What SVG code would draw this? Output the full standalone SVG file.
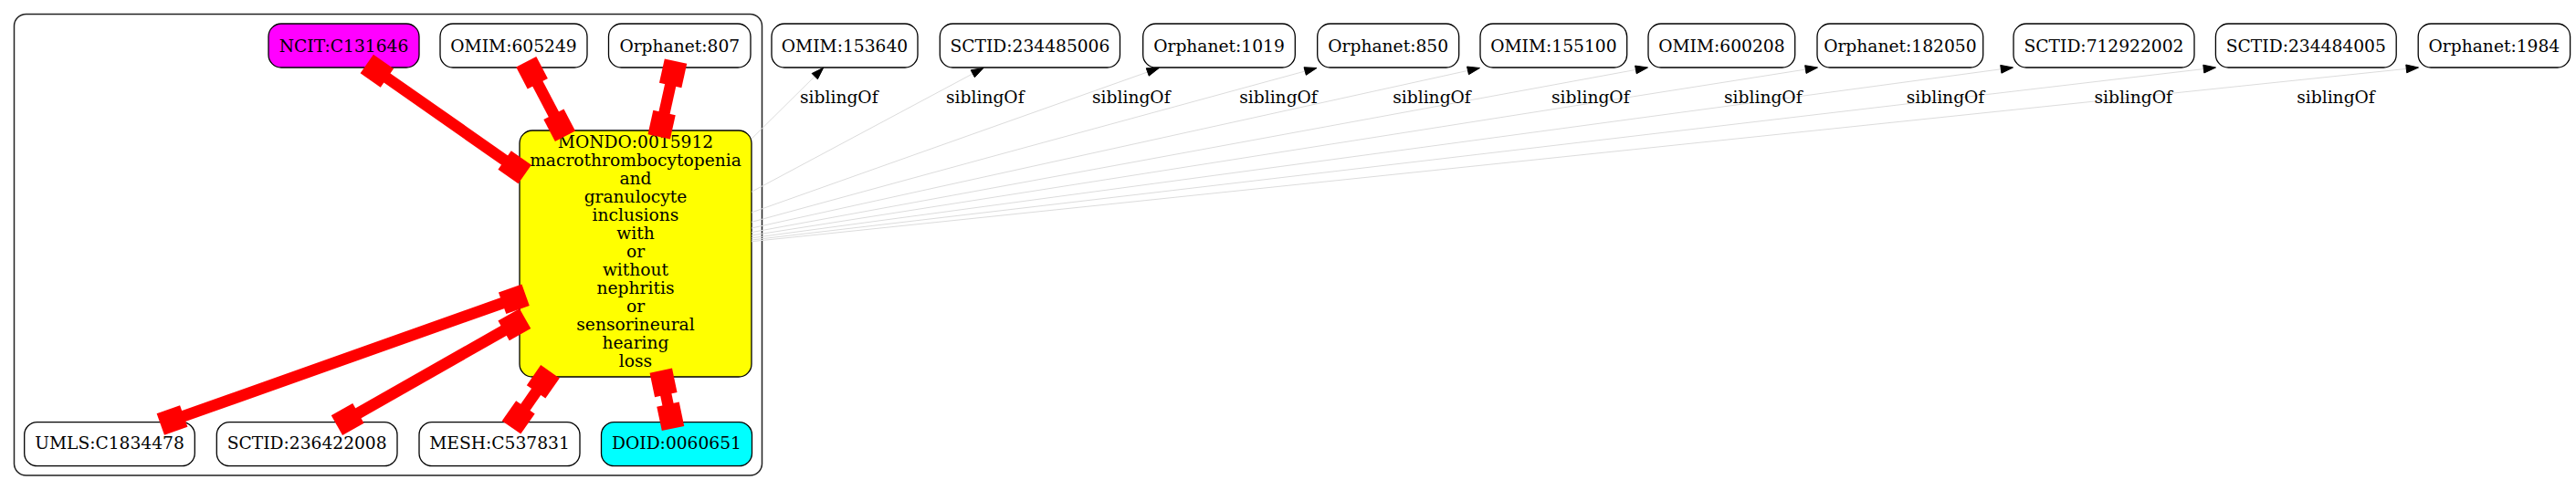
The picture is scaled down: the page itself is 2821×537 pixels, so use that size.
<svg xmlns="http://www.w3.org/2000/svg" width="2821" height="537" viewBox="0 0 2821 537">
<style>
text{font-family:"DejaVu Serif","Liberation Serif",serif;font-size:18.67px;text-anchor:middle;fill:#000}
.n rect{stroke:#000;stroke-width:1.3;fill:#fff}
.red{stroke:#f00;stroke-width:12.5;fill:none;marker-start:url(#box);marker-end:url(#box)}
.sib line{stroke:#dcdcdc;stroke-width:1}
.sib polygon{fill:#000;stroke:#000;stroke-width:1}
</style>
<defs>
<marker id="box" markerUnits="userSpaceOnUse" viewBox="-20 -12.5 27 25" markerWidth="27" markerHeight="25" refX="0" refY="0" orient="auto-start-reverse" overflow="visible">
<rect x="-20" y="-12.5" width="27" height="25" fill="#f00"/>
</marker>
</defs>
<rect width="2821" height="537" fill="#fff"/>
<g id="cluster"><rect x="15.5" y="15.5" width="819" height="505.5" rx="13" fill="none" stroke="#222" stroke-width="1.5"/></g>

<g id="NCIT_C131646" class="n"><rect x="294" y="26" width="165" height="48" rx="14" style="fill:#ff00ff"/><text x="376.5" y="56.7">NCIT:C131646</text></g>
<g id="OMIM_605249" class="n"><rect x="482" y="26" width="161" height="48" rx="14"/><text x="562.5" y="56.7">OMIM:605249</text></g>
<g id="Orphanet_807" class="n"><rect x="666.5" y="26" width="155.5" height="48" rx="14"/><text x="744.25" y="56.7">Orphanet:807</text></g>

<g id="MONDO_0015912" class="n"><rect x="569" y="143" width="254" height="270" rx="14" style="fill:#ffff00"/>
<text x="696" y="162.3">MONDO:0015912</text>
<text x="696" y="182.3">macrothrombocytopenia</text>
<text x="696" y="202.3">and</text>
<text x="696" y="222.3">granulocyte</text>
<text x="696" y="242.3">inclusions</text>
<text x="696" y="262.3">with</text>
<text x="696" y="282.3">or</text>
<text x="696" y="302.3">without</text>
<text x="696" y="322.3">nephritis</text>
<text x="696" y="342.3">or</text>
<text x="696" y="362.3">sensorineural</text>
<text x="696" y="382.3">hearing</text>
<text x="696" y="402.3">loss</text>
</g>

<g id="UMLS_C1834478" class="n"><rect x="26.7" y="462.7" width="186.6" height="48" rx="14"/><text x="120" y="492">UMLS:C1834478</text></g>
<g id="SCTID_236422008" class="n"><rect x="237.3" y="462.7" width="197.7" height="48" rx="14"/><text x="336.15" y="492">SCTID:236422008</text></g>
<g id="MESH_C537831" class="n"><rect x="459" y="462.7" width="176" height="48" rx="14"/><text x="547" y="492">MESH:C537831</text></g>
<g id="DOID_0060651" class="n"><rect x="658.5" y="462.7" width="165" height="48" rx="14" style="fill:#00ffff"/><text x="741" y="492">DOID:0060651</text></g>

<g id="OMIM_153640" class="n"><rect x="845" y="26" width="160" height="48" rx="14"/><text x="925" y="56.7">OMIM:153640</text></g>
<g id="SCTID_234485006" class="n"><rect x="1029.3" y="26" width="197.2" height="48" rx="14"/><text x="1127.9" y="56.7">SCTID:234485006</text></g>
<g id="Orphanet_1019" class="n"><rect x="1251.7" y="26" width="166.6" height="48" rx="14"/><text x="1335" y="56.7">Orphanet:1019</text></g>
<g id="Orphanet_850" class="n"><rect x="1442.7" y="26" width="155" height="48" rx="14"/><text x="1520.2" y="56.7">Orphanet:850</text></g>
<g id="OMIM_155100" class="n"><rect x="1621" y="26" width="160.7" height="48" rx="14"/><text x="1701.35" y="56.7">OMIM:155100</text></g>
<g id="OMIM_600208" class="n"><rect x="1805" y="26" width="160.7" height="48" rx="14"/><text x="1885.35" y="56.7">OMIM:600208</text></g>
<g id="Orphanet_182050" class="n"><rect x="1990" y="26" width="181.7" height="48" rx="14"/><text x="2080.85" y="56.7">Orphanet:182050</text></g>
<g id="SCTID_712922002" class="n"><rect x="2205" y="26" width="198" height="48" rx="14"/><text x="2304" y="56.7">SCTID:712922002</text></g>
<g id="SCTID_234484005" class="n"><rect x="2426.4" y="26" width="197.8" height="48" rx="14"/><text x="2525.3" y="56.7">SCTID:234484005</text></g>
<g id="Orphanet_1984" class="n"><rect x="2648.2" y="26" width="166.4" height="48" rx="14"/><text x="2731.4" y="56.7">Orphanet:1984</text></g>

<g id="connectors">
<g class="sib">
<line x1="823" y1="152.2" x2="892.25" y2="83.66"/><polygon points="901.7,74.3 895.37,86.81 889.13,80.51"/>
<line x1="823" y1="210.2" x2="1065.27" y2="80.77"/><polygon points="1077,74.5 1067.36,84.69 1063.18,76.85"/>
<line x1="823" y1="232.9" x2="1256.76" y2="78.95"/><polygon points="1269.3,74.5 1258.25,83.14 1255.28,74.77"/>
<line x1="823" y1="243.4" x2="1429.17" y2="78"/><polygon points="1442,74.5 1430.34,82.28 1428,73.72"/>
<line x1="823" y1="250" x2="1607.51" y2="77.36"/><polygon points="1620.5,74.5 1608.47,81.7 1606.56,73.02"/>
<line x1="823" y1="254.6" x2="1791.42" y2="76.41"/><polygon points="1804.5,74 1792.22,80.78 1790.62,72.04"/>
<line x1="823" y1="258" x2="1977.36" y2="76.07"/><polygon points="1990.5,74 1978.05,80.46 1976.67,71.68"/>
<line x1="823" y1="260.8" x2="2191.32" y2="75.78"/><polygon points="2204.5,74 2191.92,80.18 2190.73,71.38"/>
<line x1="823" y1="263" x2="2413.29" y2="75.56"/><polygon points="2426.5,74 2413.81,79.97 2412.77,71.15"/>
<line x1="823" y1="264.7" x2="2635.27" y2="75.38"/><polygon points="2648.5,74 2635.73,79.8 2634.81,70.96"/>
</g>
<g id="sibling-labels">
<text x="918.8" y="113.3">siblingOf</text>
<text x="1078.8" y="113.3">siblingOf</text>
<text x="1238.8" y="113.3">siblingOf</text>
<text x="1400" y="113.3">siblingOf</text>
<text x="1568" y="113.3">siblingOf</text>
<text x="1741.8" y="113.3">siblingOf</text>
<text x="1930.8" y="113.3">siblingOf</text>
<text x="2130.5" y="113.3">siblingOf</text>
<text x="2336.2" y="113.3">siblingOf</text>
<text x="2558" y="113.3">siblingOf</text>
</g>
<path class="red" d="M407.5,74 L569,187"/>
<path class="red" d="M579.5,74 L615.7,143"/>
<path class="red" d="M738.5,74 L723.2,143"/>
<path class="red" d="M182.4,462.7 L569,325.5"/>
<path class="red" d="M375,462.7 L569,352.5"/>
<path class="red" d="M564,462.7 L598.5,413"/>
<path class="red" d="M735.6,462.7 L725.2,413"/>
</g>
</svg>
